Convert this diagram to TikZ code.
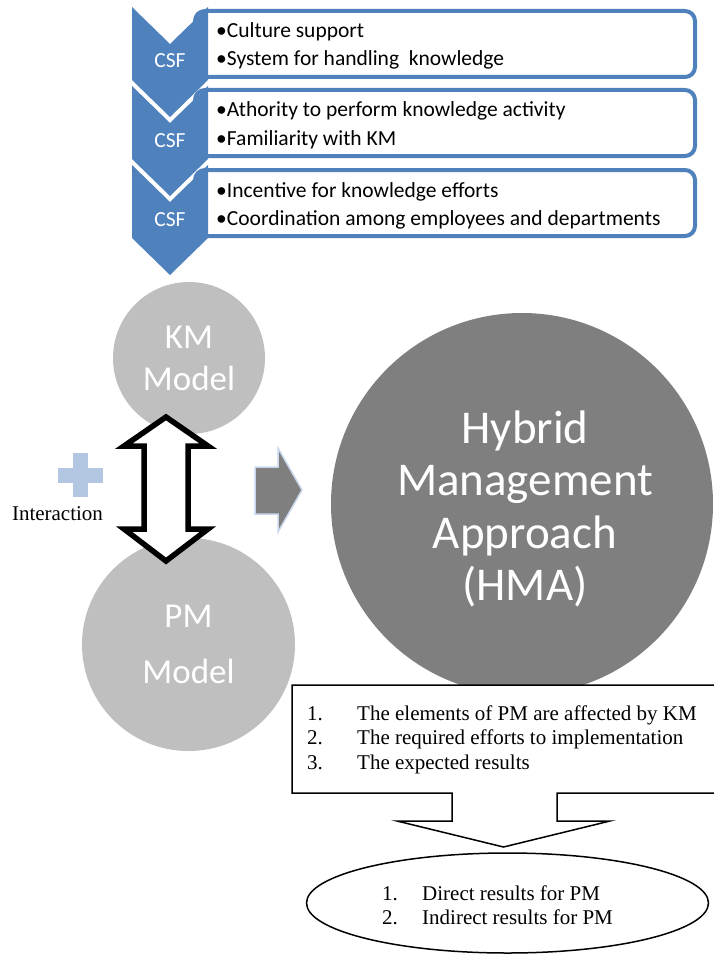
\documentclass[tikz,border=0pt]{standalone}
\usepackage{fontspec}
\setmainfont{Liberation Serif}
\newfontfamily\carlito{Carlito}
\usetikzlibrary{shapes.geometric}
\definecolor{csfblue}{HTML}{4F81BD}
\definecolor{lightgrey}{HTML}{BFBFBF}
\definecolor{darkgrey}{HTML}{7F7F7F}
\definecolor{plusblue}{HTML}{B3C6E2}
\definecolor{arrowedge}{HTML}{C9D7EE}

\begin{document}
\begin{tikzpicture}
[x=1pt,y=-1pt,every node/.style={inner sep=0pt},
csfbox/.style={draw=csfblue,line width=4pt,fill=white,rounded corners=10pt,minimum width=500pt,minimum height=66pt},
csf/.style={anchor=base,text=white,font={\carlito\fontsize{21.5}{25}\selectfont}},
item/.style={anchor=base west,font={\carlito\fontsize{21.5}{25}\selectfont}},
model/.style={circle,fill=lightgrey,text=white,align=center},
listline/.style={anchor=base west,font={\fontsize{21}{25}\selectfont}}]
\useasboundingbox (0,0) rectangle (714,955);
\foreach \y [count=\k] in {44,123,203}
\node[csfbox] (box\k) at (445,\y) {};
\foreach \y in {7,86,165}
\fill[csfblue] (132,\y) -- (170,{\y+37}) -- (208,\y) -- (208,{\y+73}) -- (170,{\y+110}) -- (132,{\y+73}) -- cycle;
\foreach \y [count=\k] in {68,147,226}
\node[csf] (csf\k) at (170,\y) {CSF};
\foreach \t/\y [count=\k] in {Culture support/38,System for handling~ knowledge/66,Athority to perform knowledge activity/117,Familiarity with KM/145,Incentive for knowledge efforts/197,Coordination among employees and departments/225}
\node[item] (item\k) at (216,\y) {\textbullet\t};
\node[model,minimum size=152pt,font={\carlito\fontsize{35}{42}\selectfont}] (km) at (189,358) {KM\\Model};
\node[model,minimum size=213pt,font={\carlito\fontsize{35}{56}\selectfont}] (pm) at (188.5,644.5) {PM\\Model};
\draw[line width=5.5pt,fill=white] (166,417) -- (208,446) -- (188,446) -- (188,529) -- (208,529) -- (166,561) -- (124,529) -- (144,529) -- (144,446) -- (124,446) -- cycle;
\fill[plusblue] (58,468) rectangle (103,483);
\fill[plusblue] (73,453) rectangle (88,497);
\node[anchor=base,font={\fontsize{21}{25}\selectfont}] (interaction) at (57.5,520) {Interaction};
\draw[fill=darkgrey,draw=arrowedge,line width=1.5pt] (255,467) -- (278,467) -- (278,448) -- (302,490) -- (278,532) -- (278,514) -- (255,514) -- cycle;
\node[circle,fill=darkgrey,minimum size=382pt] (hma) at (522,504) {};
\node[text=white,align=center,font={\carlito\fontsize{47}{52.5}\selectfont}] (hmatext) at (525,509) {Hybrid\\Management\\Approach\\(HMA)};
\draw[line width=1.5pt,fill=white] (292,685) -- (720,685) -- (720,793) -- (557,793) -- (557,821) -- (610,821) -- (503.5,847) -- (397,821) -- (452,821) -- (452,793) -- (292,793) -- cycle;
\foreach \t [count=\k] in {The elements of PM are affected by KM,The required efforts to implementation,The expected results}
\node[listline] (effect\k) at (307,{695.5+24.5*\k}) {\makebox[50pt][l]{\k.}\t};
\node[draw,ellipse,line width=1.5pt,minimum width=402pt,minimum height=100pt] (results) at (507.5,903) {};
\foreach \t [count=\k] in {Direct results for PM,Indirect results for PM}
\node[listline] (result\k) at (382,{875.5+24.5*\k}) {\makebox[40pt][l]{\k.}\t};
\end{tikzpicture}
\end{document}
